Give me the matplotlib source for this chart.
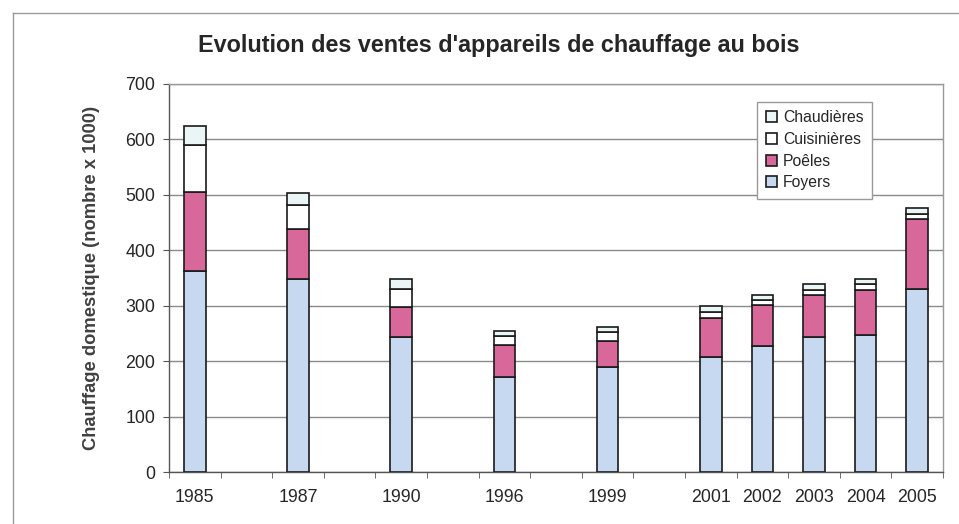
"""
Evolution des ventes d'appareils de chauffage au bois (stacked bars).
"""

import matplotlib
matplotlib.use("Agg")
import matplotlib.pyplot as plt
import numpy as np
from matplotlib.lines import Line2D

# Categories as in the original sheet: empty columns between the early years
years = ["1985", "", "1987", "", "1990", "", "1996", "", "1999", "",
         "2001", "2002", "2003", "2004", "2005"]

# values, thousands of units (nan = empty column)
foyers = [362, np.nan, 349, np.nan, 243, np.nan, 171, np.nan, 189, np.nan,
          208, 227, 244, 247, 331]
poeles = [144, np.nan, 89, np.nan, 54, np.nan, 58, np.nan, 47, np.nan,
          70, 74, 76, 82, 126]
cuisinieres = [84, np.nan, 44, np.nan, 34, np.nan, 17, np.nan, 16, np.nan,
               11, 10, 9, 10, 8]
chaudieres = [34, np.nan, 22, np.nan, 17, np.nan, 9, np.nan, 9, np.nan,
              10, 9, 10, 9, 12]

series = [
    ("Foyers", foyers, "#c6d9f1"),
    ("Poêles", poeles, "#d9689a"),
    ("Cuisinières", cuisinieres, "#ffffff"),
    ("Chaudières", chaudieres, "#eaf6f6"),
]

plt.rcParams["font.family"] = ["Liberation Sans", "DejaVu Sans"]
text_color = "#262626"

fig = plt.figure(figsize=(9.59, 5.24), dpi=100)
ax = fig.add_axes([0.1762, 0.0992, 0.8071, 0.7405])

x = np.arange(len(years))
bottom = np.zeros(len(years))
handles = []
for name, vals, color in series:
    v = np.array(vals, dtype=float)
    mask = ~np.isnan(v)
    h = ax.bar(x[mask], v[mask], width=0.42, bottom=bottom[mask],
               color=color, edgecolor="#1a1a1a", linewidth=1.2,
               label=name, zorder=3)
    bottom[mask] += v[mask]
    handles.append(h)

ax.set_xlim(-0.5, len(years) - 0.5)
ax.set_ylim(0, 700)
ax.set_yticks(range(0, 701, 100))
ax.yaxis.grid(True, color="#8a8a8a", linewidth=1.0, zorder=0)
ax.set_axisbelow(True)

# labels in the middle of each column, ticks on the column borders
ax.set_xticks(x)
ax.set_xticklabels(years)
ax.tick_params(axis="x", length=0, pad=12, labelsize=12.8, colors=text_color)
ax.set_xticks(np.arange(-0.5, len(years), 1.0), minor=True)
ax.tick_params(axis="x", which="minor", length=4, direction="out",
               color="#555555")
ax.tick_params(axis="y", length=4, direction="out", color="#555555",
               labelsize=12.8, labelcolor=text_color, pad=6)

for side in ["left", "bottom"]:
    ax.spines[side].set_color("#555555")
    ax.spines[side].set_linewidth(1.0)
for side in ["right", "top"]:
    ax.spines[side].set_color("#9a9a9a")
    ax.spines[side].set_linewidth(1.0)

ax.set_ylabel("Chauffage domestique (nombre x 1000)", fontsize=13.2,
              fontweight="bold", color="#404040", labelpad=18)

fig.text(0.52, 0.914, "Evolution des ventes d'appareils de chauffage au bois",
         ha="center", va="center", fontsize=16.8, fontweight="bold",
         color=text_color)

leg = ax.legend(handles[::-1], [s[0] for s in series][::-1],
                loc="upper left", bbox_to_anchor=(0.760, 0.954),
                borderaxespad=0, fancybox=False, framealpha=1,
                edgecolor="#9a9a9a", fontsize=11.3, handlelength=0.7,
                handleheight=0.7, handletextpad=0.4, labelspacing=0.42,
                borderpad=0.55)
for t in leg.get_texts():
    t.set_color(text_color)

# scanned chart frame (left and top edge)
fig.add_artist(Line2D([0.0136, 0.0136], [0.0, 0.975], transform=fig.transFigure,
                      color="#9a9a9a", linewidth=1.0))
fig.add_artist(Line2D([0.0136, 1.0], [0.975, 0.975], transform=fig.transFigure,
                      color="#9a9a9a", linewidth=1.0))

fig.savefig("out.png", dpi=100)
